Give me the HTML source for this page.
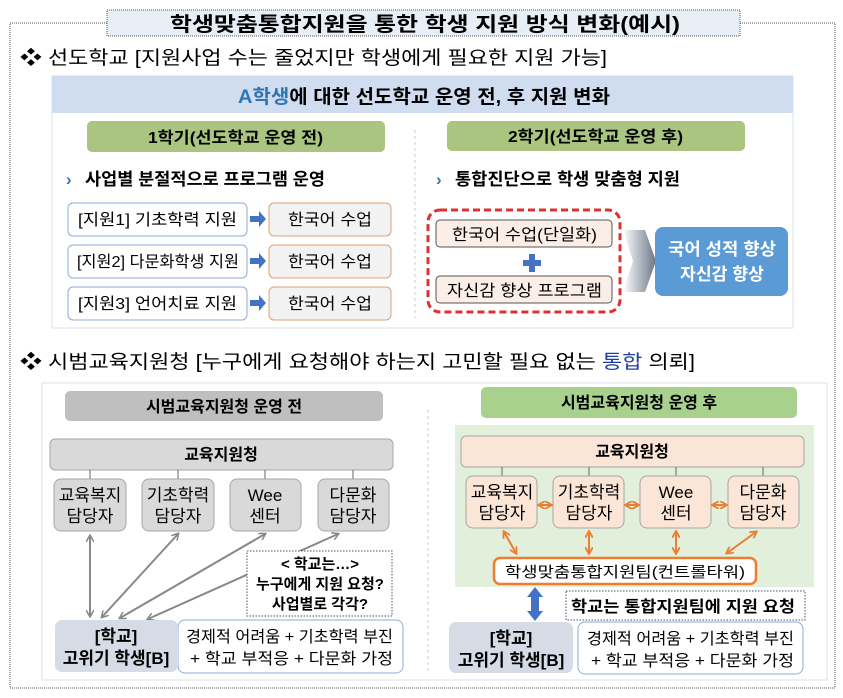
<!DOCTYPE html>
<html><head><meta charset="utf-8"><style>
body{margin:0;background:#fff;}
svg text{font-family:"Liberation Sans","Noto Sans CJK KR",sans-serif;}
</style></head><body>
<svg width="843" height="693" viewBox="0 0 843 693" xmlns="http://www.w3.org/2000/svg">
<defs>
<marker id="ga" markerWidth="8" markerHeight="8" refX="6" refY="4" orient="auto-start-reverse" markerUnits="userSpaceOnUse"><path d="M0,0 L7,4 L0,8" fill="none" stroke="#888" stroke-width="1.5"/></marker>
<marker id="oa" markerWidth="8" markerHeight="8" refX="6" refY="4" orient="auto-start-reverse" markerUnits="userSpaceOnUse"><path d="M0,0 L7,4 L0,8" fill="none" stroke="#ed7d31" stroke-width="1.8"/></marker>
<linearGradient id="gr" x1="0" x2="1"><stop offset="0" stop-color="#fff"/><stop offset="1" stop-color="#44546a"/></linearGradient>
</defs>
<rect x="10" y="23" width="825" height="665" fill="none" stroke="#555" stroke-dasharray="1,1"/>
<rect x="107" y="10" width="633" height="26" fill="#e8eef6" stroke="#555" stroke-dasharray="1,1"/>
<text x="170" y="31" font-size="20" font-weight="bold" textLength="510" lengthAdjust="spacingAndGlyphs">학생맞춤통합지원을 통한 학생 지원 방식 변화(예시)</text>
<text x="20" y="64" font-size="19" textLength="587" lengthAdjust="spacingAndGlyphs">❖ 선도학교 [지원사업 수는 줄었지만 학생에게 필요한 지원 가능]</text>
<!-- panel 1 -->
<rect x="52" y="76" width="741" height="252" fill="#fff" stroke="#dde3ea"/>
<rect x="52" y="76" width="741" height="37" fill="#d0ddf1"/>
<text x="238" y="103" font-size="19" font-weight="bold" textLength="372" lengthAdjust="spacingAndGlyphs"><tspan fill="#2e75b6">A학생</tspan>에 대한 선도학교 운영 전, 후 지원 변화</text>
<rect x="87" y="121" width="298" height="31" rx="5" fill="#a9c57f"/>
<text x="148" y="143" font-size="16" font-weight="bold" textLength="175" lengthAdjust="spacingAndGlyphs">1학기(선도학교 운영 전)</text>
<rect x="447" y="121" width="298" height="30" rx="5" fill="#a9c57f"/>
<text x="508" y="142" font-size="16" font-weight="bold" textLength="175" lengthAdjust="spacingAndGlyphs">2학기(선도학교 운영 후)</text>
<line x1="415" y1="130" x2="415" y2="318" stroke="#ccc" stroke-dasharray="3,3"/>
<text x="66" y="185" font-size="17" font-weight="bold" fill="#2e75b6">›</text>
<text x="85" y="185" font-size="17" font-weight="bold" textLength="240" lengthAdjust="spacingAndGlyphs">사업별 분절적으로 프로그램 운영</text>
<text x="436" y="185" font-size="17" font-weight="bold" fill="#2e75b6">›</text>
<text x="455" y="185" font-size="17" font-weight="bold" textLength="225" lengthAdjust="spacingAndGlyphs">통합진단으로 학생 맞춤형 지원</text>
<g font-size="16">
<rect x="68" y="203" width="179" height="33" rx="5" fill="#fff" stroke="#8eaadb"/><text x="78" y="225" textLength="159" lengthAdjust="spacingAndGlyphs">[지원1] 기초학력 지원</text>
<rect x="68" y="245" width="179" height="33" rx="5" fill="#fff" stroke="#8eaadb"/><text x="77" y="267" textLength="162" lengthAdjust="spacingAndGlyphs">[지원2] 다문화학생 지원</text>
<rect x="68" y="287" width="179" height="33" rx="5" fill="#fff" stroke="#8eaadb"/><text x="78" y="309" textLength="159" lengthAdjust="spacingAndGlyphs">[지원3] 언어치료 지원</text>
<rect x="269" y="203" width="122" height="33" rx="5" fill="#f2f2f2" stroke="#e0a070"/><text x="288" y="225" textLength="84" lengthAdjust="spacingAndGlyphs">한국어 수업</text>
<rect x="269" y="245" width="122" height="33" rx="5" fill="#f2f2f2" stroke="#e0a070"/><text x="288" y="267" textLength="84" lengthAdjust="spacingAndGlyphs">한국어 수업</text>
<rect x="269" y="287" width="122" height="33" rx="5" fill="#f2f2f2" stroke="#e0a070"/><text x="288" y="309" textLength="84" lengthAdjust="spacingAndGlyphs">한국어 수업</text>
</g>
<g fill="#4472c4"><path d="M250,216h9v-5l7,8l-7,8v-5h-9z"/><path d="M250,258h9v-5l7,8l-7,8v-5h-9z"/><path d="M250,300h9v-5l7,8l-7,8v-5h-9z"/></g>
<rect x="428" y="210" width="192" height="102" rx="12" fill="none" stroke="#e03030" stroke-width="3" stroke-dasharray="7,4"/>
<rect x="436" y="220" width="176" height="27" rx="4" fill="#fbeee6" stroke="#555"/><text x="452" y="240" font-size="16" textLength="145" lengthAdjust="spacingAndGlyphs">한국어 수업(단일화)</text>
<path d="M529,254h6v6h6v6h-6v6h-6v-6h-6v-6h6z" fill="#4472c4"/>
<rect x="436" y="276" width="176" height="27" rx="4" fill="#fbeee6" stroke="#555"/><text x="447" y="296" font-size="16" textLength="155" lengthAdjust="spacingAndGlyphs">자신감 향상 프로그램</text>
<path d="M623,230 L645,230 L656,261 L645,292 L623,292 L633,261z" fill="url(#gr)" opacity="0.8"/>
<rect x="655" y="227" width="133" height="69" rx="8" fill="#5b9bd5"/>
<text x="668" y="255" font-size="17" font-weight="bold" fill="#fff" textLength="108" lengthAdjust="spacingAndGlyphs">국어 성적 향상</text>
<text x="680" y="280" font-size="17" font-weight="bold" fill="#fff" textLength="84" lengthAdjust="spacingAndGlyphs">자신감 향상</text>
<!-- section 2 -->
<text x="20" y="368" font-size="19" textLength="675" lengthAdjust="spacingAndGlyphs">❖ 시범교육지원청 [누구에게 요청해야 하는지 고민할 필요 없는 <tspan fill="#1f3fa0">통합</tspan> 의뢰]</text>
<rect x="42" y="383" width="785" height="297" fill="#fff" stroke="#dde3ea"/>
<rect x="65" y="391" width="318" height="30" rx="5" fill="#bfbfbf"/>
<text x="224" y="412" font-size="16" font-weight="bold" text-anchor="middle">시범교육지원청 운영 전</text>
<rect x="481" y="387" width="316" height="31" rx="5" fill="#a9d18e"/>
<text x="639" y="408" font-size="16" font-weight="bold" text-anchor="middle">시범교육지원청 운영 후</text>
<line x1="428" y1="410" x2="428" y2="672" stroke="#ccc" stroke-dasharray="3,3"/>
<!-- left -->
<rect x="50" y="439" width="343" height="31" rx="5" fill="#d9d9d9" stroke="#a6a6a6"/>
<text x="221" y="460" font-size="16" font-weight="bold" text-anchor="middle">교육지원청</text>
<g stroke="#666"><line x1="90" y1="470" x2="90" y2="479"/><line x1="178" y1="470" x2="178" y2="479"/><line x1="265" y1="470" x2="265" y2="479"/><line x1="353" y1="470" x2="353" y2="479"/></g>
<g font-size="17" text-anchor="middle">
<rect x="54" y="479" width="72" height="52" rx="7" fill="#d9d9d9" stroke="#a6a6a6"/><text x="90" y="501">교육복지</text><text x="90" y="522">담당자</text>
<rect x="142" y="479" width="72" height="52" rx="7" fill="#d9d9d9" stroke="#a6a6a6"/><text x="178" y="501">기초학력</text><text x="178" y="522">담당자</text>
<rect x="230" y="479" width="71" height="52" rx="7" fill="#d9d9d9" stroke="#a6a6a6"/><text x="265" y="501">Wee</text><text x="265" y="522">센터</text>
<rect x="318" y="479" width="71" height="52" rx="7" fill="#d9d9d9" stroke="#a6a6a6"/><text x="353" y="501">다문화</text><text x="353" y="522">담당자</text>
</g>
<g stroke="#888" stroke-width="2" marker-start="url(#ga)" marker-end="url(#ga)">
<line x1="90" y1="536" x2="90" y2="616"/>
<line x1="178" y1="534" x2="102" y2="617"/>
<line x1="265" y1="534" x2="120" y2="618"/>
<line x1="338" y1="534" x2="148" y2="619"/>
</g>
<rect x="247" y="551" width="145" height="65" fill="#fff" stroke="#44546a" stroke-dasharray="1.5,1.5"/>
<g font-size="15" font-weight="bold" text-anchor="middle"><text x="320" y="569">&lt; 학교는…&gt;</text><text x="320" y="589">누구에게 지원 요청?</text><text x="320" y="609">사업별로 각각?</text></g>
<rect x="178" y="620" width="225" height="53" rx="7" fill="#fff" stroke="#8eaadb"/>
<rect x="55" y="620" width="123" height="52" rx="7" fill="#d6dce5"/>
<g font-size="17" font-weight="bold" text-anchor="middle"><text x="116" y="642">[학교]</text><text x="116" y="664">고위기 학생[B]</text></g>
<g font-size="16"><text x="186" y="642" textLength="207" lengthAdjust="spacingAndGlyphs">경제적 어려움 + 기초학력 부진</text><text x="190" y="664" textLength="203" lengthAdjust="spacingAndGlyphs">+ 학교 부적응 + 다문화 가정</text></g>
<!-- right -->
<rect x="455" y="425" width="359" height="162" fill="#e2efda"/>
<rect x="461" y="436" width="343" height="31" rx="5" fill="#fbe5d6" stroke="#a6a6a6"/>
<text x="632" y="457" font-size="16" font-weight="bold" text-anchor="middle">교육지원청</text>
<g stroke="#666"><line x1="502" y1="467" x2="502" y2="476"/><line x1="589" y1="467" x2="589" y2="476"/><line x1="676" y1="467" x2="676" y2="476"/><line x1="763" y1="467" x2="763" y2="476"/></g>
<g font-size="17" text-anchor="middle">
<rect x="466" y="476" width="71" height="52" rx="7" fill="#fbe5d6" stroke="#a6a6a6"/><text x="502" y="498">교육복지</text><text x="502" y="519">담당자</text>
<rect x="553" y="476" width="71" height="52" rx="7" fill="#fbe5d6" stroke="#a6a6a6"/><text x="589" y="498">기초학력</text><text x="589" y="519">담당자</text>
<rect x="640" y="476" width="71" height="52" rx="7" fill="#fbe5d6" stroke="#a6a6a6"/><text x="676" y="498">Wee</text><text x="676" y="519">센터</text>
<rect x="728" y="476" width="71" height="52" rx="7" fill="#fbe5d6" stroke="#a6a6a6"/><text x="763" y="498">다문화</text><text x="763" y="519">담당자</text>
</g>
<g stroke="#ed7d31" stroke-width="2" marker-start="url(#oa)" marker-end="url(#oa)">
<line x1="539" y1="505" x2="551" y2="505"/><line x1="626" y1="505" x2="638" y2="505"/><line x1="713" y1="505" x2="726" y2="505"/>
<line x1="504" y1="532" x2="516" y2="553"/><line x1="589" y1="532" x2="589" y2="553"/><line x1="676" y1="532" x2="676" y2="553"/><line x1="756" y1="532" x2="727" y2="553"/>
</g>
<rect x="494" y="558" width="262" height="26" rx="6" fill="#fff" stroke="#ed7d31" stroke-width="2.5"/>
<text x="505" y="577" font-size="15" textLength="240" lengthAdjust="spacingAndGlyphs">학생맞춤통합지원팀(컨트롤타워)</text>
<path d="M535,587 L543,597 L539,597 L539,611 L543,611 L535,621 L527,611 L531,611 L531,597 L527,597z" fill="#4472c4"/>
<rect x="566" y="591" width="239" height="29" fill="#fff" stroke="#44546a" stroke-dasharray="1.5,1.5"/>
<text x="571" y="612" font-size="16" font-weight="bold" textLength="224" lengthAdjust="spacingAndGlyphs">학교는 통합지원팀에 지원 요청</text>
<rect x="578" y="622" width="225" height="52" rx="7" fill="#fff" stroke="#8eaadb"/>
<rect x="449" y="622" width="124" height="51" rx="7" fill="#d6dce5"/>
<g font-size="17" font-weight="bold" text-anchor="middle"><text x="511" y="644">[학교]</text><text x="511" y="666">고위기 학생[B]</text></g>
<g font-size="16"><text x="587" y="644" textLength="207" lengthAdjust="spacingAndGlyphs">경제적 어려움 + 기초학력 부진</text><text x="591" y="666" textLength="203" lengthAdjust="spacingAndGlyphs">+ 학교 부적응 + 다문화 가정</text></g>
</svg>
</body></html>
